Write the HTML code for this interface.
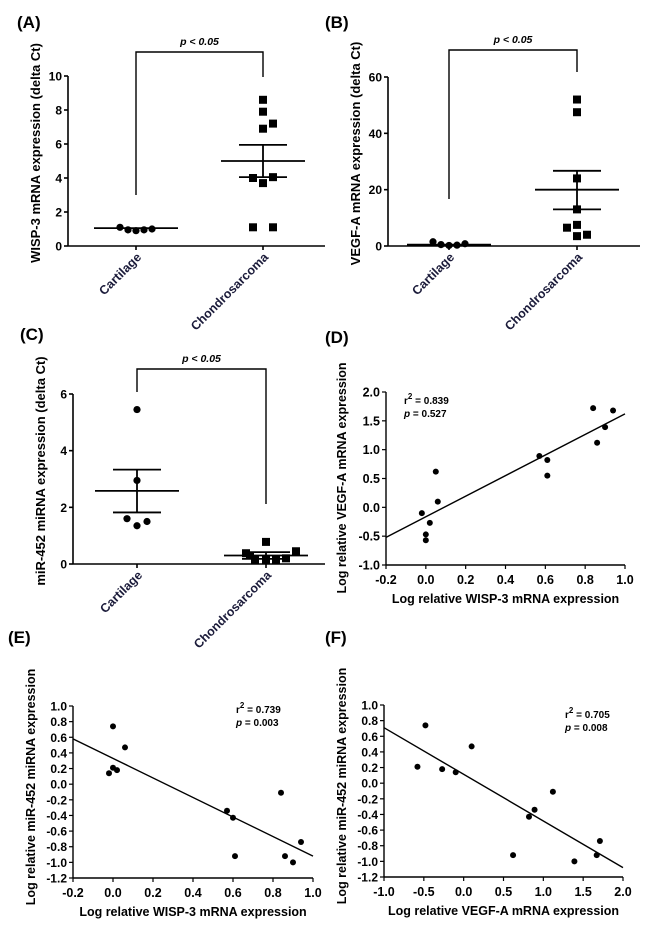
<!DOCTYPE html>
<html><head><meta charset="utf-8"><style>
body{margin:0;background:#fff}
svg{display:block;font-family:"Liberation Sans",Arial,sans-serif;font-weight:bold}
</style></head><body>
<svg id="fig" width="650" height="930" viewBox="0 0 650 930" xmlns="http://www.w3.org/2000/svg">
<text x="17" y="28" font-size="17">(A)</text>
<text x="325" y="28" font-size="17">(B)</text>
<text x="20" y="340" font-size="17">(C)</text>
<text x="325" y="343" font-size="17">(D)</text>
<text x="8" y="643" font-size="17">(E)</text>
<text x="325" y="643" font-size="17">(F)</text>
</svg>
<script>
// Panel A data
const aCats=["Cartilage","Chondrosarcoma"];
const aCart=[1.1,0.95,0.9,0.95,1.0];
const aChon=[8.6,7.9,6.9,7.2,4.0,4.05,3.7,1.1,1.1];
const aChonOff=[0,0,0,1,-1,1,0,-1,1];
const aCartStats=[1.05,1.05,1.05];
const aChonStats=[5.0,5.95,4.05];
const aTicks=[0,2,4,6,8,10];
// Panel B data
const bCart=[1.5,0.5,0.2,0.3,0.8];
const bChon=[52,47.5,24,13,7.5,6.5,3.5,4];
const bChonOff=[0,0,0,0,0,-1,0,1];
const bCartStats=[0.5,0.5,0.5];
const bChonStats=[20,26.7,13];
const bTicks=[0,20,40,60];
// Panel C data
const cCart=[5.45,2.95,1.6,1.35,1.5];
const cCartOff=[0,0,-1,0,1];
const cChon=[0.78,0.38,0.45,0.3,0.15,0.15,0.15,0.2];
const cChonOff=[0,-2,3,-1.6,-1.1,0,1,2];
const cCartStats=[2.58,3.33,1.82];
const cChonStats=[0.3,0.42,0.18];
const cTicks=[0,2,4,6];
// Panel D data
const dX=[-0.02,0,0,0.02,0.05,0.06,0.57,0.61,0.61,0.84,0.86,0.9,0.94];
const dY=[-0.1,-0.47,-0.57,-0.27,0.62,0.1,0.89,0.82,0.55,1.72,1.12,1.39,1.68];
const dFit=[-0.52,1.62];
const dXTicks=[-0.2,0,0.2,0.4,0.6,0.8,1.0];
const dYTicks=[-1,-0.5,0,0.5,1,1.5,2];
// Panel E data
const eX=[-0.02,0,0,0.02,0.06,0.57,0.6,0.61,0.84,0.86,0.9,0.94];
const eY=[0.14,0.74,0.21,0.18,0.47,-0.34,-0.43,-0.92,-0.11,-0.92,-1.0,-0.74];
const eFit=[0.58,-0.92];
const eXTicks=[-0.2,0,0.2,0.4,0.6,0.8,1.0];
const eYTicks=[-1.2,-1,-0.8,-0.6,-0.4,-0.2,0,0.2,0.4,0.6,0.8,1.0];
// Panel F data
const fX=[-0.58,-0.48,-0.27,-0.1,0.1,0.62,0.82,0.89,1.12,1.39,1.67,1.71];
const fY=[0.21,0.74,0.18,0.14,0.47,-0.92,-0.43,-0.34,-0.11,-1.0,-0.92,-0.74];
const fFit=[0.71,-1.08];
const fXTicks=[-1,-0.5,0,0.5,1,1.5,2];
const fYTicks=[-1.2,-1,-0.8,-0.6,-0.4,-0.2,0,0.2,0.4,0.6,0.8,1.0];

const svg=document.getElementById('fig');
const NS='http://www.w3.org/2000/svg';
function mk(tag,attrs,txt){const e=document.createElementNS(NS,tag);for(const k in attrs)e.setAttribute(k,attrs[k]);if(txt!==undefined)e.textContent=txt;svg.appendChild(e);return e;}
function line(x1,y1,x2,y2,w){return mk('line',{x1,y1,x2,y2,stroke:'#000','stroke-width':w||1.6});}
function scale(d0,d1,r0,r1){return v=>r0+(v-d0)*(r1-r0)/(d1-d0);}
function fmt(v,dec){return v.toFixed(dec);}

function dotPlot(o){
  const y=scale(o.ymin,o.ymax,o.y0,o.y1);
  let e=line(o.ax,o.y1,o.ax,o.y0);
  
  
  e=line(o.ax,o.y0,o.axEnd,o.y0);
  
  
  o.ticks.forEach(t=>{line(o.ax-4,y(t),o.ax,y(t));
    e=mk('text',{x:o.ax-6,y:y(t)+4.5,'font-size':12,'text-anchor':'end'},String(t));
    
    });
  [o.x1,o.x2].forEach((cx,i)=>{line(cx,o.y0,cx,o.y0+4);
    e=mk('text',{x:0,y:0,'font-size':12.5,'text-anchor':'end',fill:'#1b1b3a',transform:`translate(${cx+6},${o.y0+12}) rotate(-45)`},aCats[i]);
    
    });
  e=mk('text',{x:0,y:0,'font-size':13,'text-anchor':'middle',transform:`translate(${o.ax-28},${(o.y0+o.y1)/2-8}) rotate(-90)`},o.title);
  
  
  const p=mk('polyline',{points:`${o.x1},${o.bl} ${o.x1},${o.bt} ${o.x2},${o.bt} ${o.x2},${o.br}`,fill:'none',stroke:'#000','stroke-width':1.4});
  
  
  e=mk('text',{x:(o.x1+o.x2)/2,y:o.bt-7,'font-size':10.5,'font-style':'italic','text-anchor':'middle'},'p < 0.05');
  
  
  const groups=[[o.x1,o.g1,o.off1,o.s1,'circle'],[o.x2,o.g2,o.off2,o.s2,'square']];
  groups.forEach(([cx,vals,off,st,shape],gi)=>{
    vals.forEach((v,i)=>{const px=cx+(off?off[i]*10:(i-2)*8);
      let m;
      if(shape==='circle') m=mk('circle',{cx:px,cy:y(v),r:3.6,fill:'#000'});
      else m=mk('rect',{x:px-4,y:y(v)-4,width:8,height:8,fill:'#000'});
      
      });
    const sm=st[1]!==st[0];
    e=line(cx-42,y(st[0]),cx+42,y(st[0]),1.8);
    
    
    if(sm){line(cx-24,y(st[1]),cx+24,y(st[1]),1.8);line(cx-24,y(st[2]),cx+24,y(st[2]),1.8);line(cx,y(st[1]),cx,y(st[2]),1.8);}
  });
}
dotPlot({id:'panel-a',ax:68,axEnd:325,y0:246,y1:76,ymin:0,ymax:10,ticks:aTicks,x1:136,x2:263,
 g1:aCart,g2:aChon,off1:null,off2:aChonOff,s1:aCartStats,s2:aChonStats,bt:52,bl:195,br:77,title:'WISP-3 mRNA expression (delta Ct)'});
dotPlot({id:'panel-b',ax:388,axEnd:640,y0:246,y1:77,ymin:0,ymax:60,ticks:bTicks,x1:449,x2:577,
 g1:bCart,g2:bChon,off1:null,off2:bChonOff,s1:bCartStats,s2:bChonStats,bt:50,bl:199,br:72,title:'VEGF-A mRNA expression (delta Ct)'});
dotPlot({id:'panel-c',ax:73,axEnd:325,y0:564,y1:394,ymin:0,ymax:6,ticks:cTicks,x1:137,x2:266,
 g1:cCart,g2:cChon,off1:cCartOff,off2:cChonOff,s1:cCartStats,s2:cChonStats,bt:369,bl:392,br:504,title:'miR-452 miRNA expression (delta Ct)'});

function scatter(o){
  const x=scale(o.xmin,o.xmax,o.x0,o.x1), y=scale(o.ymin,o.ymax,o.y0,o.y1);
  let e=line(o.x0,o.y1,o.x0,o.y0,1.4);
  
  
  e=line(o.x0,o.y0,o.x1,o.y0,1.4);
  
  
  o.yt.forEach(t=>{line(o.x0-4,y(t),o.x0,y(t),1.2);
    e=mk('text',{x:o.x0-6,y:y(t)+4.5,'font-size':o.yfs,'text-anchor':'end'},fmt(t,1));
    
    });
  o.xt.forEach(t=>{line(x(t),o.y0,x(t),o.y0+4,1.2);
    e=mk('text',{x:x(t),y:o.y0+19,'font-size':12.5,'text-anchor':'middle'},fmt(t,1));
    
    });
  e=mk('text',{x:(o.x0+o.x1)/2,y:o.y0+38,'font-size':12.5,'text-anchor':'middle'},o.xtitle);
  
  
  e=mk('text',{x:0,y:0,'font-size':12.5,'text-anchor':'middle',transform:`translate(${o.ytx},${o.ytc}) rotate(-90)`},o.ytitle);
  
  
  e=line(x(o.xmin),y(o.fit[0]),x(o.xmax),y(o.fit[1]),1.4);
  
  
  o.xs.forEach((v,i)=>{const c=mk('circle',{cx:x(v),cy:y(o.ys[i]),r:3,fill:'#000'});
    
    });
  e=mk('text',{x:o.tx,y:o.ty,'font-size':10});
  e.innerHTML='r<tspan dy="-5" font-size="8">2</tspan><tspan dy="5"> = '+o.r2+'</tspan>';
  
  
  e=mk('text',{x:o.tx,y:o.ty+13,'font-size':10});
  e.innerHTML='<tspan font-style="italic">p</tspan> = '+o.p;
  
  
}
scatter({id:'panel-d',x0:386,x1:625,y0:565,y1:392,xmin:-0.2,xmax:1.0,ymin:-1,ymax:2,xs:dX,ys:dY,fit:dFit,xt:dXTicks,yt:dYTicks,yfs:12.5,
 xtitle:'Log relative WISP-3 mRNA expression',ytitle:'Log relative VEGF-A mRNA expression',ytx:346,ytc:478,tx:404,ty:404,r2:'0.839',p:'0.527'});
scatter({id:'panel-e',x0:73,x1:313,y0:878,y1:706,xmin:-0.2,xmax:1.0,ymin:-1.2,ymax:1.0,xs:eX,ys:eY,fit:eFit,xt:eXTicks,yt:eYTicks,yfs:12,
 xtitle:'Log relative WISP-3 mRNA expression',ytitle:'Log relative miR-452 miRNA expression',ytx:35,ytc:787,tx:236,ty:713,r2:'0.739',p:'0.003'});
scatter({id:'panel-f',x0:384,x1:623,y0:877,y1:705,xmin:-1,xmax:2,ymin:-1.2,ymax:1.0,xs:fX,ys:fY,fit:fFit,xt:fXTicks,yt:fYTicks,yfs:12,
 xtitle:'Log relative VEGF-A mRNA expression',ytitle:'Log relative miR-452 miRNA expression',ytx:346,ytc:786,tx:565,ty:718,r2:'0.705',p:'0.008'});
</script>
</body></html>
